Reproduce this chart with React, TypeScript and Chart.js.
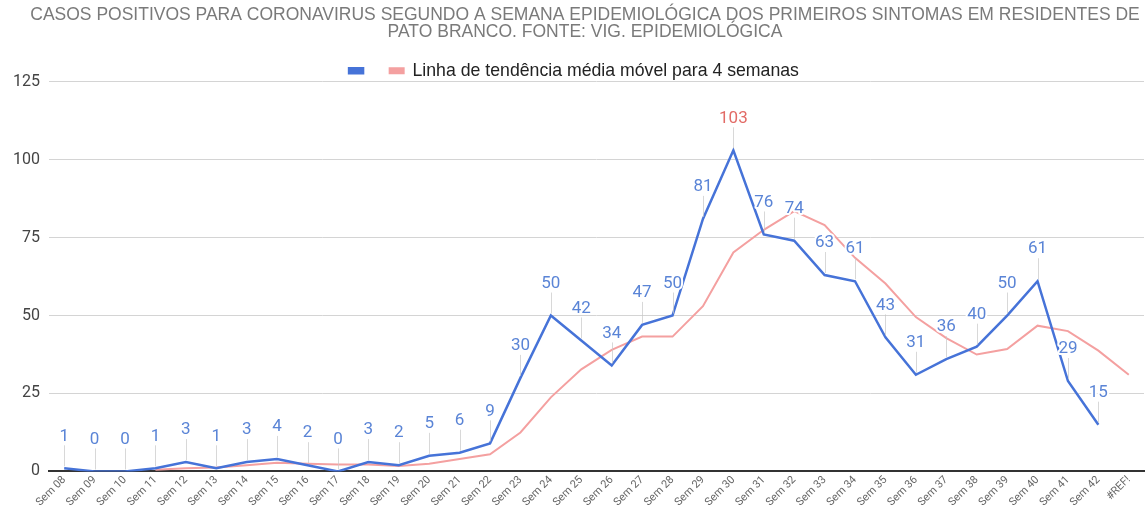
import React, { useEffect, useRef } from "react";
import { Chart, registerables } from "chart.js";

Chart.register(...registerables);

const categories = [
  "Sem 08", "Sem 09", "Sem 10", "Sem 11", "Sem 12", "Sem 13", "Sem 14", "Sem 15", "Sem 16",
  "Sem 17", "Sem 18", "Sem 19", "Sem 20", "Sem 21", "Sem 22", "Sem 23", "Sem 24", "Sem 25",
  "Sem 26", "Sem 27", "Sem 28", "Sem 29", "Sem 30", "Sem 31", "Sem 32", "Sem 33", "Sem 34",
  "Sem 35", "Sem 36", "Sem 37", "Sem 38", "Sem 39", "Sem 40", "Sem 41", "Sem 42", "#REF!",
];

const casos: (number | null)[] = [
  1, 0, 0, 1, 3, 1, 3, 4, 2, 0, 3, 2, 5, 6, 9, 30, 50, 42, 34, 47, 50, 81, 103, 76, 74, 63,
  61, 43, 31, 36, 40, 50, 61, 29, 15, null,
];

const mediaMovel: (number | null)[] = [
  null, null, null, 0.5, 1, 1.25, 2, 2.75, 2.5, 2.25, 2.25, 1.75, 2.5, 4, 5.5, 12.5, 23.75,
  32.75, 39, 43.25, 43.25, 53, 70.25, 77.5, 83.5, 79, 68.5, 60.25, 49.5, 42.75, 37.5, 39.25,
  46.75, 45, 38.75, 31,
];

const yTicks = [0, 25, 50, 75, 100, 125];

const titleLines = [
  "CASOS POSITIVOS PARA CORONAVIRUS SEGUNDO A SEMANA EPIDEMIOLÓGICA DOS PRIMEIROS SINTOMAS EM RESIDENTES DE",
  "PATO BRANCO. FONTE: VIG. EPIDEMIOLÓGICA",
];

const casosLabel = "   ";
const trendLabel = "Linha de tendência média móvel para 4 semanas";

const BLUE = "#4673d8";
const LABEL_BLUE = "#5a84d6";
const PINK = "#f4a0a0";
const MAX_RED = "#e26b66";

const layoutTweakPlugin = {
  id: "layoutTweak",
  beforeLayout(chart: any) {
    const lg = chart.legend;
    if (lg && !lg.__patched) {
      const orig = lg.fit.bind(lg);
      lg.fit = () => {
        orig();
        lg.height -= 8;
      };
      lg.__patched = true;
    }
  },
  afterLayout(chart: any) {
    const tb = chart.titleBlock;
    if (tb) {
      tb.left += 22;
    }
  },
};

const dataLabelPlugin = {
  id: "dataLabels",
  afterDatasetsDraw(chart: any) {
    const ctx = chart.ctx;
    const meta = chart.getDatasetMeta(0);
    const data = chart.data.datasets[0].data as (number | null)[];
    let maxVal = -Infinity;
    data.forEach((v) => {
      if (v != null && v > maxVal) maxVal = v;
    });
    ctx.save();
    ctx.font = "17px Roboto, 'Liberation Sans', Arial, sans-serif";
    ctx.textAlign = "center";
    ctx.textBaseline = "middle";
    meta.data.forEach((pt: any, i: number) => {
      const v = data[i];
      if (v == null) return;
      const x = pt.x;
      const y = pt.y;
      const ly = y - 32;
      ctx.strokeStyle = "rgba(200,200,200,0.7)";
      ctx.lineWidth = 1;
      ctx.beginPath();
      ctx.moveTo(Math.round(x) + 0.5, ly + 9);
      ctx.lineTo(Math.round(x) + 0.5, y - 2);
      ctx.stroke();
      ctx.lineWidth = 4;
      ctx.strokeStyle = "#ffffff";
      ctx.lineJoin = "round";
      ctx.strokeText(String(v), x, ly);
      ctx.fillStyle = v === maxVal ? MAX_RED : LABEL_BLUE;
      ctx.fillText(String(v), x, ly);
    });
    ctx.restore();
  },
};

export default function App() {
  const canvasRef = useRef<HTMLCanvasElement | null>(null);

  useEffect(() => {
    document.body.style.margin = "0";
    const canvas = canvasRef.current;
    if (!canvas) return;
    const chart = new Chart(canvas, {
      type: "line",
      data: {
        labels: categories,
        datasets: [
          {
            label: casosLabel,
            data: casos,
            borderColor: BLUE,
            backgroundColor: BLUE,
            borderWidth: 2.5,
            pointRadius: 0,
            tension: 0,
          },
          {
            label: trendLabel,
            data: mediaMovel,
            borderColor: PINK,
            backgroundColor: PINK,
            borderWidth: 2,
            pointRadius: 0,
            tension: 0,
          },
        ],
      },
      options: {
        responsive: false,
        animation: false,
        layout: { padding: { left: 4, right: 2, top: 2, bottom: 0 } },
        plugins: {
          title: {
            display: true,
            text: titleLines,
            color: "#7a7a7a",
            font: { family: "'Liberation Sans', Arial, sans-serif", size: 17.5, weight: "normal", lineHeight: 1.0 },
            padding: { top: 4, bottom: 18 },
          },
          legend: {
            display: true,
            position: "top",
            labels: {
              color: "#222",
              font: { family: "'Liberation Sans', Arial, sans-serif", size: 17.7 },
              boxWidth: 14,
              boxHeight: 5,
              padding: 3,
            },
          },
          tooltip: { enabled: false },
        },
        scales: {
          x: {
            offset: true,
            grid: { display: false, drawTicks: false },
            border: { display: true, color: "#333", width: 2 },
            ticks: {
              color: "#666",
              font: { family: "Roboto, 'Liberation Sans', Arial, sans-serif", size: 11 },
              maxRotation: 45,
              minRotation: 45,
              autoSkip: false,
              padding: 2,
            },
          },
          y: {
            min: 0,
            max: 125,
            afterBuildTicks: (axis: any) => {
              axis.ticks = yTicks.map((v) => ({ value: v }));
            },
            grid: { color: "#d4d4d4", drawTicks: false, lineWidth: 1 },
            border: { display: false },
            ticks: {
              color: "#444",
              font: { family: "Roboto, 'Liberation Sans', Arial, sans-serif", size: 16 },
              padding: 9,
            },
          },
        },
      },
      plugins: [layoutTweakPlugin, dataLabelPlugin],
    });
    return () => chart.destroy();
  }, []);

  return (
    <div style={{ width: 1146, height: 511 }}>
      <canvas ref={canvasRef} width={1146} height={511} style={{ display: "block" }} />
    </div>
  );
}
